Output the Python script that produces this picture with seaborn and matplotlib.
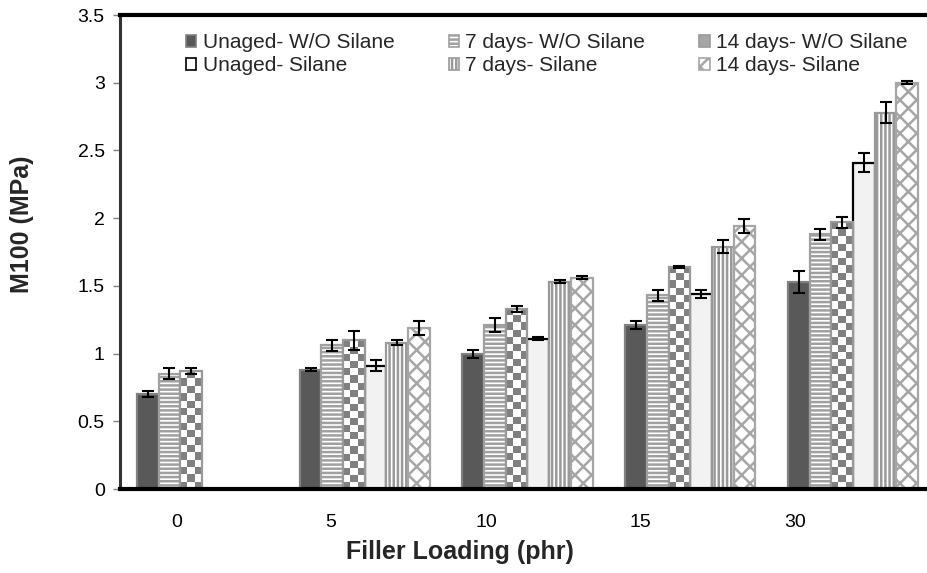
import numpy as np
import pandas as pd
import matplotlib
matplotlib.use("Agg")
import matplotlib.pyplot as plt
import seaborn as sns
from matplotlib.patches import Patch
from matplotlib.colors import ListedColormap
from matplotlib.container import BarContainer

# ---------------- data ----------------
loadings = ["0", "5", "10", "15", "30"]
series = ["Unaged- W/O Silane", "7 days- W/O Silane", "14 days- W/O Silane",
          "Unaged- Silane", "7 days- Silane", "14 days- Silane"]

unaged_wo = [0.70, 0.88, 1.00, 1.21, 1.53]
d7_wo = [0.85, 1.06, 1.21, 1.43, 1.88]
d14_wo = [0.87, 1.10, 1.33, 1.64, 1.97]
unaged_si = [np.nan, 0.91, 1.11, 1.44, 2.41]
d7_si = [np.nan, 1.08, 1.53, 1.79, 2.78]
d14_si = [np.nan, 1.19, 1.56, 1.94, 3.00]

err_unaged_wo = [0.02, 0.01, 0.03, 0.03, 0.08]
err_d7_wo = [0.04, 0.04, 0.05, 0.04, 0.04]
err_d14_wo = [0.02, 0.07, 0.02, 0.01, 0.04]
err_unaged_si = [np.nan, 0.04, 0.01, 0.03, 0.07]
err_d7_si = [np.nan, 0.02, 0.01, 0.05, 0.08]
err_d14_si = [np.nan, 0.05, 0.01, 0.05, 0.01]

values = [unaged_wo, d7_wo, d14_wo, unaged_si, d7_si, d14_si]
errors = [err_unaged_wo, err_d7_wo, err_d14_wo, err_unaged_si, err_d7_si, err_d14_si]

rows = []
for s, vals, errs in zip(series, values, errors):
    for l, v, e in zip(loadings, vals, errs):
        if not np.isnan(v):
            rows.append({"loading": l, "series": s, "value": v, "err": e})
df = pd.DataFrame(rows)

# ---------------- style ----------------
sns.set_theme(style="white")
plt.rcParams["font.family"] = ["Liberation Sans", "DejaVu Sans"]
plt.rcParams["hatch.linewidth"] = 1.8

styles = [
    dict(face="#595959", edge="#808080", hatch=None),
    dict(face="white", edge="#a0a0a0", hatch="----"),
    dict(face="checker", edge="#999999", hatch=None),
    dict(face="#f2f2f2", edge="black", hatch=None),
    dict(face="white", edge="#999999", hatch="||||"),
    dict(face="white", edge="#a6a6a6", hatch="xx"),
]

fig = plt.figure(figsize=(9.27, 5.73), dpi=100)
ax = fig.add_axes([120 / 927, 84 / 573, 807 / 927, 474 / 573])

sns.barplot(data=df, x="loading", y="value", hue="series", order=loadings,
            hue_order=series, errorbar=None, width=0.8, ax=ax, legend=False,
            palette=["#595959"] * 6)

XLIM = (-0.504, 4.455)
ax.set_xlim(*XLIM)
ax.set_ylim(0, 3.5)


def checker(ax, bar, sq_px=7.2):
    x0, y0 = bar.get_x(), bar.get_y()
    w, h = bar.get_width(), bar.get_height()
    p0 = ax.transData.transform((x0, y0))
    p1 = ax.transData.transform((x0 + w, y0 + h))
    ncol = max(1, int(round((p1[0] - p0[0]) / sq_px)))
    nrow = max(1, int(round((p1[1] - p0[1]) / sq_px)))
    arr = np.add.outer(np.arange(nrow), np.arange(ncol)) % 2
    im = ax.imshow(arr, cmap=ListedColormap(["#808080", "white"]),
                   extent=(x0, x0 + w, y0, y0 + h), origin="lower",
                   interpolation="nearest", aspect="auto",
                   zorder=bar.get_zorder() - 0.05)
    im.set_clip_path(bar)


bar_conts = [c for c in ax.containers if isinstance(c, BarContainer)]
for i, cont in enumerate(bar_conts):
    st = styles[i]
    sub = df[df["series"] == series[i]]
    sub = sub.set_index("loading").loc[[l for l in loadings if l in set(sub["loading"])]]
    xs, ys, es = [], [], []
    for bar, (_, r) in zip(cont, sub.iterrows()):
        bar.set_edgecolor(st["edge"])
        bar.set_linewidth(1.6)
        if st["face"] == "checker":
            bar.set_facecolor("none")
            bar.set_zorder(2)
            checker(ax, bar)
        else:
            bar.set_facecolor(st["face"])
            if st["hatch"]:
                bar.set_hatch(st["hatch"])
        xs.append(bar.get_x() + bar.get_width() / 2)
        ys.append(bar.get_height())
        es.append(r["err"])
    ax.errorbar(xs, ys, yerr=es, fmt="none", ecolor="black", elinewidth=1.5,
                capsize=4, capthick=1.5, zorder=6)

ax.set_xlim(*XLIM)
ax.set_ylim(0, 3.5)

# ticks
xtick_pos = [-0.154, 0.793, 1.745, 2.691, 3.644]
ax.set_xticks(xtick_pos, loadings)
yt = np.arange(0, 3.51, 0.5)
ax.set_yticks(yt, [f"{v:g}" for v in yt])
ax.tick_params(axis="x", length=0, pad=18, labelsize=14, colors="black")
ax.tick_params(axis="y", left=True, length=5, width=1, color="#808080",
               pad=6, labelsize=14, labelcolor="black")

ax.set_xlabel("Filler Loading (phr)", fontsize=18, fontweight="bold")
ax.set_ylabel("M100 (MPa)", fontsize=18, fontweight="bold")
ax.xaxis.set_label_coords(340 / 807, -51 / 474)
ax.yaxis.set_label_coords(-86 / 807, 0.559)

for side in ["top", "bottom"]:
    ax.spines[side].set_color("black")
    ax.spines[side].set_linewidth(3)
ax.spines["right"].set_visible(False)
ax.spines["left"].set_color("#333333")
ax.spines["left"].set_linewidth(2.2)

# legend
handles = []
leg_styles = [
    dict(facecolor="#595959", edgecolor="#808080"),
    dict(facecolor="white", edgecolor="#a0a0a0", hatch="----"),
    dict(facecolor="#a6a6a6", edgecolor="#999999"),
    dict(facecolor="white", edgecolor="black"),
    dict(facecolor="white", edgecolor="#999999", hatch="||||"),
    dict(facecolor="white", edgecolor="#a6a6a6", hatch="xx"),
]
for s, ls in zip(series, leg_styles):
    handles.append(Patch(label=s, linewidth=1.2, **ls))
order = [0, 3, 1, 4, 2, 5]
leg = ax.legend([handles[k] for k in order], [series[k] for k in order],
                ncol=3, frameon=False, loc="upper left",
                bbox_to_anchor=(186 / 927, 1 - 33 / 573), bbox_transform=fig.transFigure,
                fontsize=15, handlelength=0.5, handleheight=0.5,
                handletextpad=0.3, columnspacing=2.6, labelspacing=0.2,
                borderaxespad=0, borderpad=0)

fig.savefig("out.png", dpi=100)
